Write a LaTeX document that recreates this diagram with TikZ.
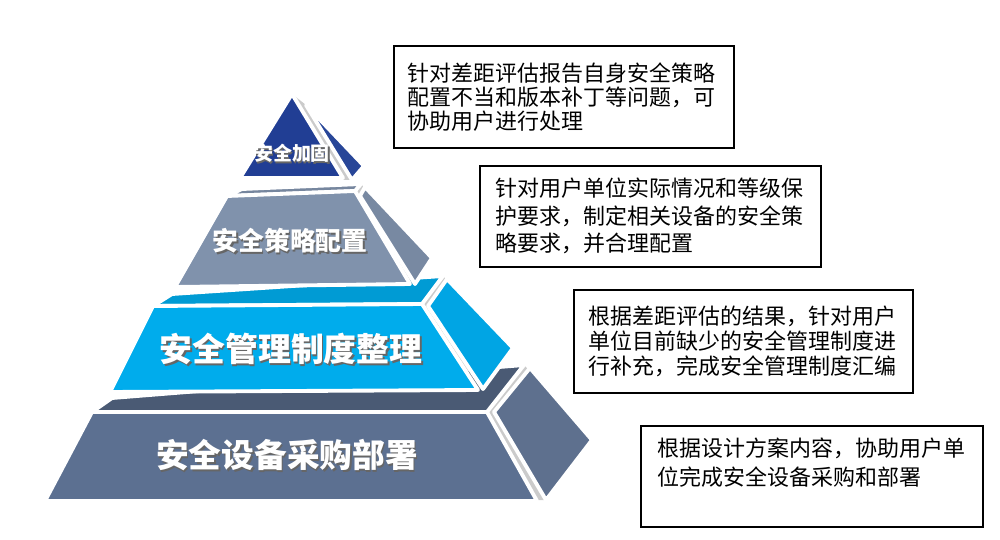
\documentclass[tikz,border=0pt]{standalone}
\usepackage{fontspec}
\newfontfamily\cjk{Noto Sans CJK SC}
\usepackage{tikz}
\usetikzlibrary{positioning,calc}
\definecolor{HardenBlue}{RGB}{33,62,148}
\definecolor{HardenSide}{RGB}{40,70,152}
\definecolor{PolicyGray}{RGB}{128,146,172}
\definecolor{PolicySide}{RGB}{120,137,162}
\definecolor{RuleCyan}{RGB}{0,172,236}
\definecolor{RuleSide}{RGB}{0,165,228}
\definecolor{BaseSlate}{RGB}{92,112,145}
\definecolor{BaseSide}{RGB}{94,112,142}
\tikzset{
  face/.style={draw=white,line width=2.2pt,line join=round},
  dropshade/.style={fill=black!45,opacity=0.45},
  tierlabel/.style={text=white,font=\cjk\bfseries\fontsize{#1}{#1}\selectfont,inner sep=0pt},
  labelshade/.style={text=black!60,font=\cjk\bfseries\fontsize{#1}{#1}\selectfont,inner sep=0pt},
  note/.style={draw=black,line width=0.9pt,fill=white,align=left,anchor=north west,
    font=\cjk\fontsize{12.5}{#1}\selectfont,inner ysep=0pt},
}
\begin{document}
\begin{tikzpicture}[x=0.02cm,y=-0.02cm]
  \useasboundingbox (0,0) rectangle (1000,540);
  % base tier
  \coordinate (d1) at (45,501);  \coordinate (d2) at (537,501);
  \coordinate (d3) at (487,412); \coordinate (d4) at (92,412);
  \coordinate (d5) at (524,365); \coordinate (d6) at (112,398);
  \coordinate (d7) at (494,412); \coordinate (d8) at (530,368);
  \coordinate (d9) at (592,440); \coordinate (d10) at (546,500);
  \fill[dropshade,shift={(3,5)}] (d1) -- (d4) -- (d6) -- (d5) -- (d9) -- (d10) -- cycle;
  \draw[face,fill=BaseSlate!80!black] (d4) -- (d3) -- (d5) -- (d6) -- cycle;
  \draw[face,fill=BaseSlate] (d1) -- (d2) -- (d3) -- (d4) -- cycle;
  \draw[face,fill=BaseSide] (d7) -- (d8) -- (d9) -- (d10) -- cycle;
  % rule tier
  \coordinate (c1) at (110,392); \coordinate (c2) at (478,390);
  \coordinate (c3) at (422,304); \coordinate (c4) at (153,306);
  \coordinate (c5) at (443,276); \coordinate (c6) at (172,294);
  \coordinate (c7) at (428,306); \coordinate (c8) at (447,279);
  \coordinate (c9) at (513,348); \coordinate (c10) at (483,389);
  \fill[dropshade,shift={(3,5)}] (c1) -- (c4) -- (c6) -- (c5) -- (c9) -- (c10) -- cycle;
  \draw[face,fill=RuleCyan!90!black] (c4) -- (c3) -- (c5) -- (c6) -- cycle;
  \draw[face,fill=RuleCyan] (c1) -- (c2) -- (c3) -- (c4) -- cycle;
  \draw[face,fill=RuleSide] (c7) -- (c8) -- (c9) -- (c10) -- cycle;
  % policy tier
  \coordinate (b1) at (175,287); \coordinate (b2) at (410,284);
  \coordinate (b3) at (355,191); \coordinate (b4) at (227,196);
  \coordinate (b5) at (361,184); \coordinate (b6) at (242,189);
  \coordinate (b7) at (360,196); \coordinate (b8) at (365,187);
  \coordinate (b9) at (432,258); \coordinate (b10) at (415,284);
  \fill[dropshade,shift={(3,5)}] (b1) -- (b4) -- (b6) -- (b5) -- (b9) -- (b10) -- cycle;
  \draw[face,fill=PolicyGray!92!black] (b4) -- (b3) -- (b5) -- (b6) -- cycle;
  \draw[face,fill=PolicyGray] (b1) -- (b2) -- (b3) -- (b4) -- cycle;
  \draw[face,fill=PolicySide] (b7) -- (b8) -- (b9) -- (b10) -- cycle;
  % harden tier
  \coordinate (a1) at (240,178); \coordinate (a2) at (343,178);
  \coordinate (a3) at (292,94);
  \coordinate (a4) at (306,105); \coordinate (a5) at (364,166);
  \coordinate (a6) at (352,180);
  \fill[dropshade,shift={(3,5)}] (a1) -- (a3) -- (a4) -- (a5) -- (a6) -- cycle;
  \draw[face,fill=HardenBlue] (a1) -- (a2) -- (a3) -- cycle;
  \draw[face,fill=HardenSide] (a4) -- (a5) -- (a6) -- cycle;
  % tier labels
  \foreach \n/\x/\y/\s/\t in {harden/292/153/10.8/安全加固,policy/290/241/14.7/安全策略配置,
      rule/291/349/18.7/安全管理制度整理,base/287/455/18.6/安全设备采购部署} {
    \node[labelshade=\s] (\n-shd) at (\x+1.5,\y+2) {\t};
    \node[tierlabel=\s] (\n-lbl) at (\x,\y) {\t};
  }
  % notes
  \node[note=13.7,minimum width=6.8cm,minimum height=2.04cm,text width=6.24cm,inner xsep=0.28cm]
    (harden-note) at (393,45) {针对差距评估报告自身安全策略\\配置不当和版本补丁等问题，可\\协助用户进行处理};
  \node[note=15.6,minimum width=6.82cm,minimum height=2.02cm,text width=6.18cm,inner xsep=0.32cm]
    (policy-note) at (479,165) {针对用户单位实际情况和等级保\\护要求，制定相关设备的安全策\\略要求，并合理配置};
  \node[note=14.2,minimum width=6.78cm,minimum height=2.06cm,text width=6.18cm,inner xsep=0.3cm]
    (rule-note) at (573,289) {根据差距评估的结果，针对用户\\单位目前缺少的安全管理制度进\\行补充，完成安全管理制度汇编};
  \node[note=16.5,minimum width=6.84cm,minimum height=2.02cm,text width=6.16cm,inner xsep=0.34cm]
    (base-note) at (640,425) {根据设计方案内容，协助用户单\\位完成安全设备采购和部署\\\mbox{}};
\end{tikzpicture}
\end{document}
